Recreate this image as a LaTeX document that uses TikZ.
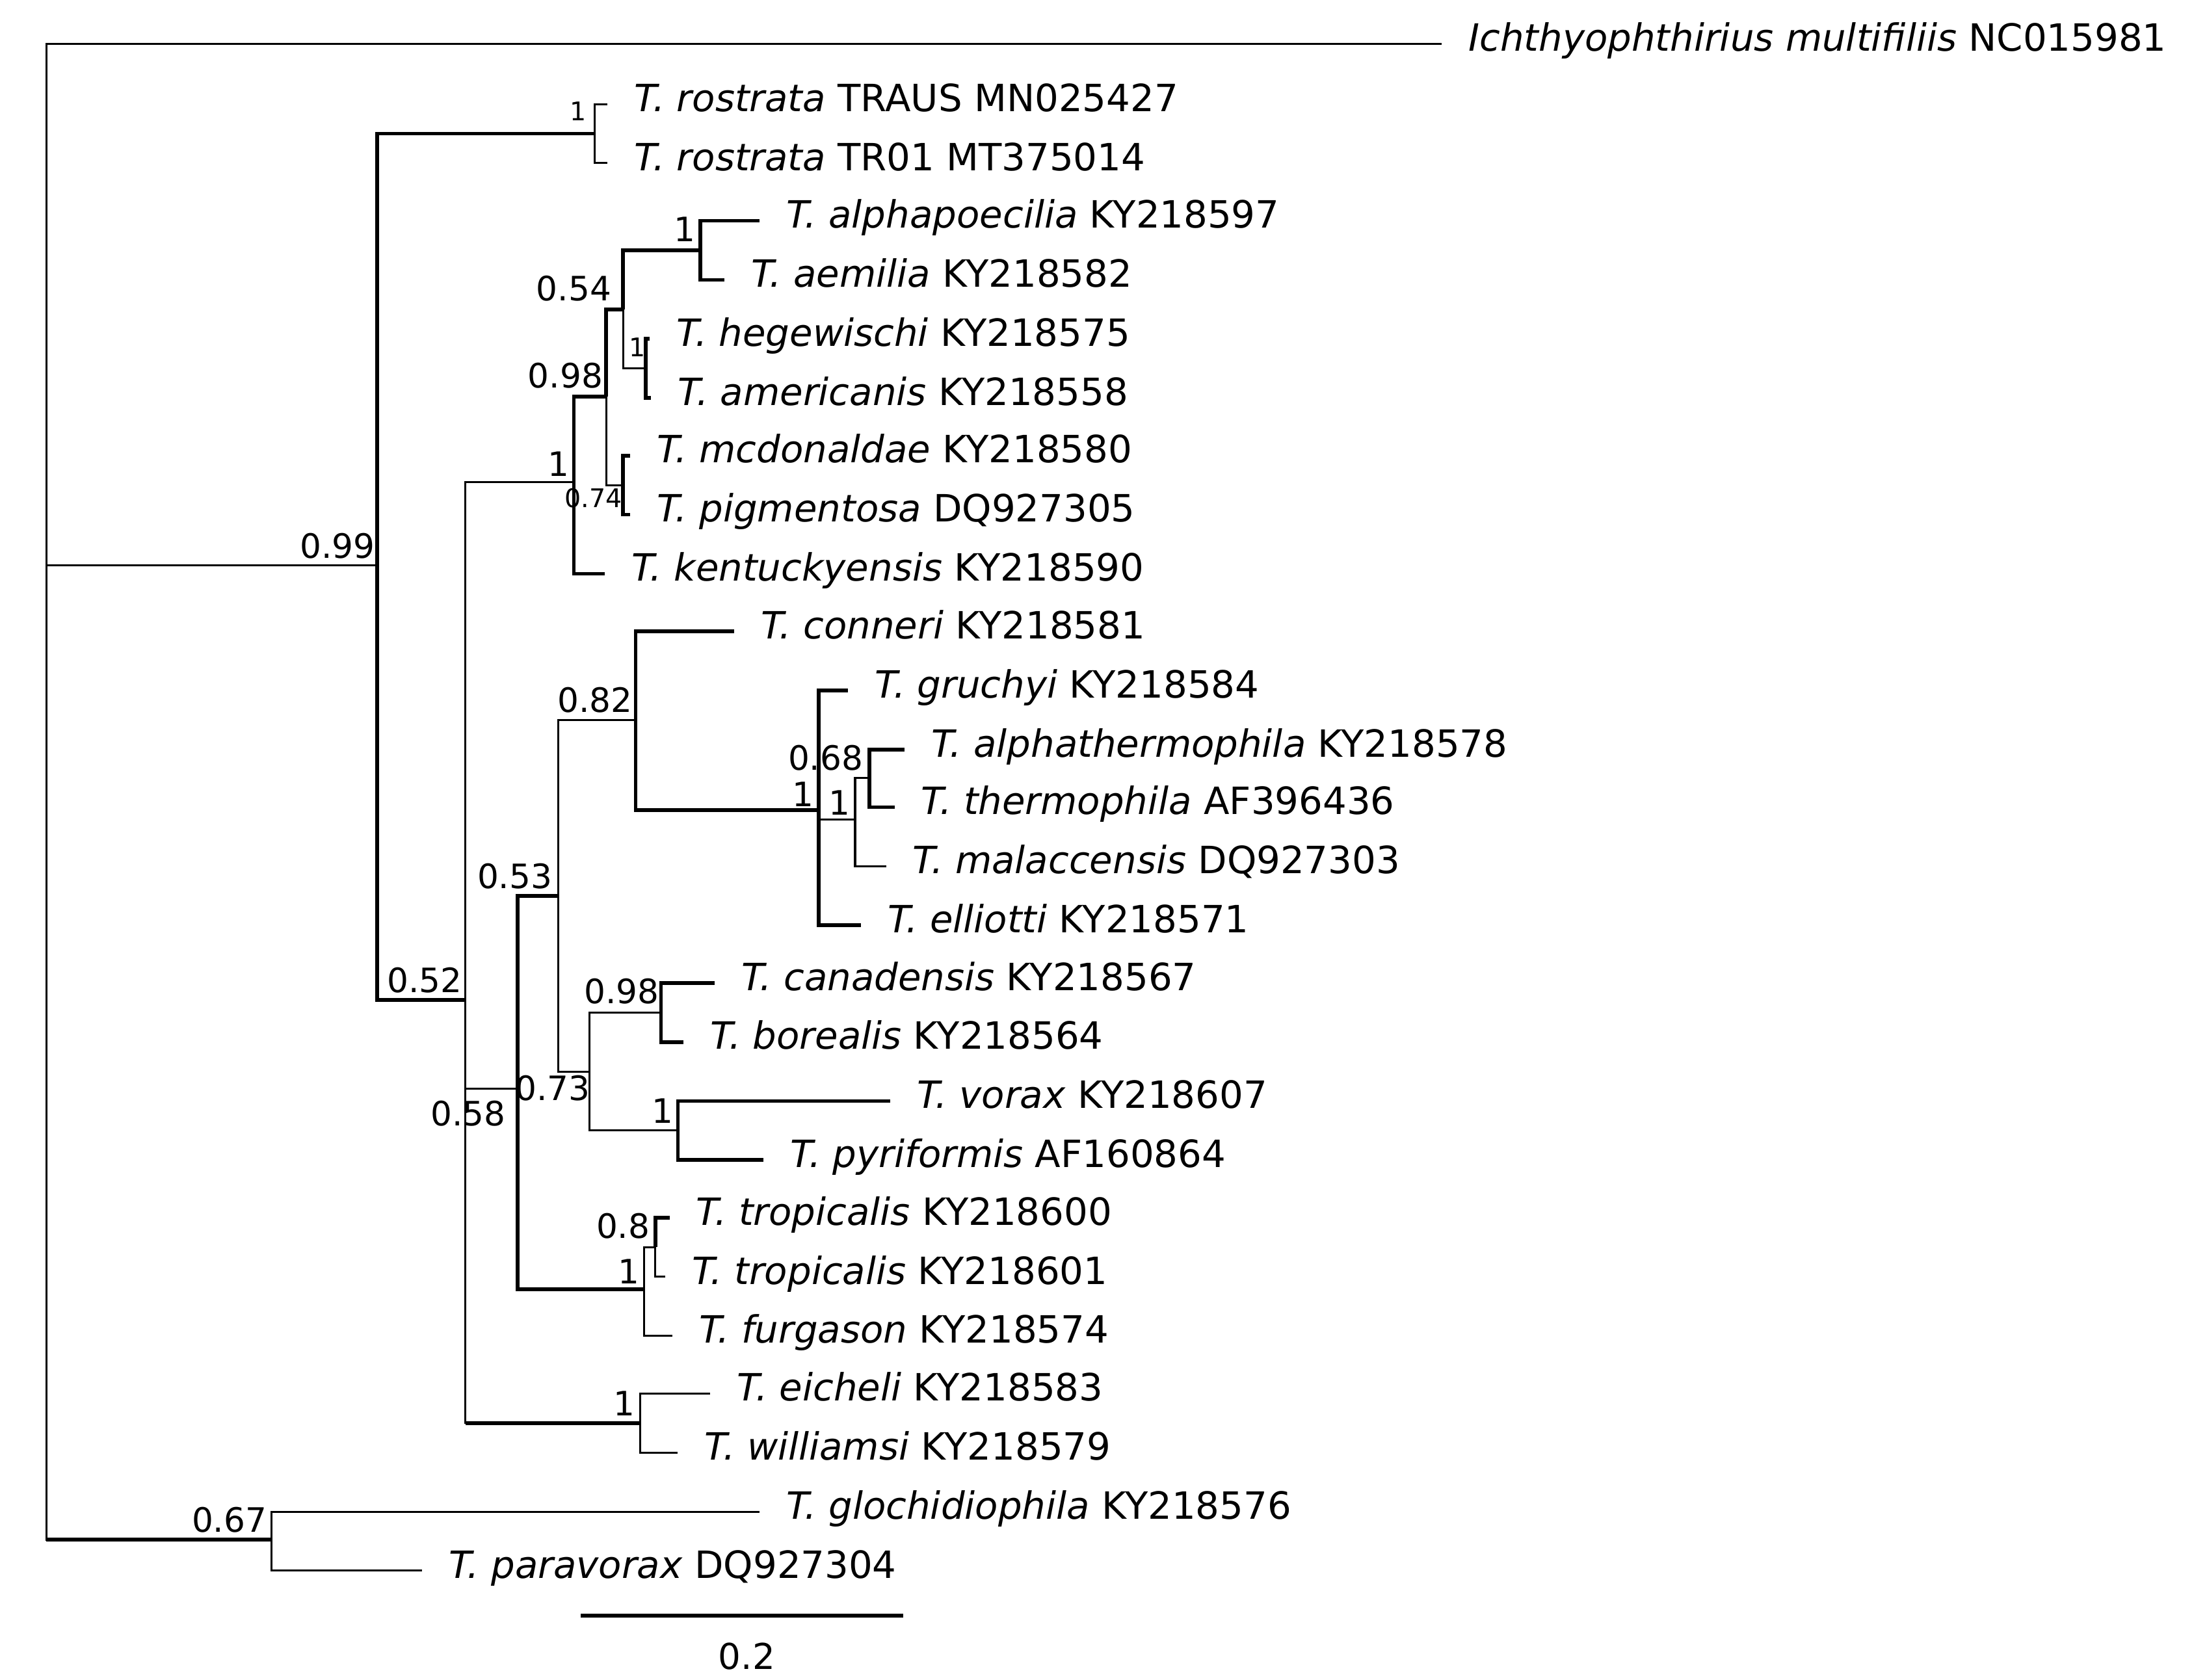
\documentclass[tikz,border=0pt]{standalone}
\usepackage{fontspec}
\setmainfont{DejaVu Sans}
\begin{document}
\begin{tikzpicture}[x=0.05cm,y=-0.05cm,
  br/.style={line width=2pt},
  tk/.style={line width=3.8pt},
  lab/.style={anchor=west,inner sep=0pt,xshift=0.95cm,font=\fontsize{38}{44}\selectfont},
  sup/.style={inner sep=0pt,font=\fontsize{34}{40}\selectfont},
  sups/.style={inner sep=0pt,font=\fontsize{26}{30}\selectfont}]
\useasboundingbox (0,0) rectangle (1560,1194.7);
% tips
\foreach \n/\x/\y/\t in {
 t0/1025/31/{\textit{Ichthyophthirius multifiliis} NC015981},
 t1/432/74/{\textit{T. rostrata} TRAUS MN025427},
 t2/432/116/{\textit{T. rostrata} TR01 MT375014},
 t3/540/157/{\textit{T. alphapoecilia} KY218597},
 t4/515/199/{\textit{T. aemilia} KY218582},
 t5/462/241/{\textit{T. hegewischi} KY218575},
 t6/463/283/{\textit{T. americanis} KY218558},
 t7/448/324/{\textit{T. mcdonaldae} KY218580},
 t8/448/366/{\textit{T. pigmentosa} DQ927305},
 t9/430/408/{\textit{T. kentuckyensis} KY218590},
 t10/522/449/{\textit{T. conneri} KY218581},
 t11/603/491/{\textit{T. gruchyi} KY218584},
 t12/643/533/{\textit{T. alphathermophila} KY218578},
 t13/636/574/{\textit{T. thermophila} AF396436},
 t14/630/616/{\textit{T. malaccensis} DQ927303},
 t15/612/658/{\textit{T. elliotti} KY218571},
 t16/508/699/{\textit{T. canadensis} KY218567},
 t17/486/741/{\textit{T. borealis} KY218564},
 t18/633/783/{\textit{T. vorax} KY218607},
 t19/543/825/{\textit{T. pyriformis} AF160864},
 t20/476/866/{\textit{T. tropicalis} KY218600},
 t21/473/908/{\textit{T. tropicalis} KY218601},
 t22/478/950/{\textit{T. furgason} KY218574},
 t23/505/991/{\textit{T. eicheli} KY218583},
 t24/482/1033/{\textit{T. williamsi} KY218579},
 t25/540/1075/{\textit{T. glochidiophila} KY218576},
 t26/300/1117/{\textit{T. paravorax} DQ927304}}
 {\coordinate (\n) at (\x,\y); \node[lab] (l\n) at ([yshift=0.05cm]\n) {\strut\t};}
% internal nodes
\coordinate (root) at (33,563);
\coordinate (A) at (268,402);
\coordinate (R1) at (423,95);
\coordinate (B) at (331,711);
\coordinate (C) at (408,343);
\coordinate (D) at (431,282);
\coordinate (E) at (443,220);
\coordinate (F) at (498,178);
\coordinate (G) at (459,262);
\coordinate (H) at (443,345);
\coordinate (I) at (368,774);
\coordinate (K) at (397,637);
\coordinate (M) at (452,512);
\coordinate (O) at (582,576);
\coordinate (P) at (608,583);
\coordinate (Q) at (618,553);
\coordinate (N) at (419,762);
\coordinate (R) at (470,720);
\coordinate (S) at (482,804);
\coordinate (L) at (458,917);
\coordinate (T) at (466,887);
\coordinate (J) at (455,1012);
\coordinate (U) at (193,1095);
% edges
\draw[br] (root) |- (t0);
\draw[br] (root) |- (A);
\draw[br] (root) |- (U); \draw[tk] (root |- U) -- (U);
\draw[tk] (A) |- (R1);
\draw[tk] (A) |- (B);
\draw[br] (R1) |- (t1); \draw[br] (R1) |- (t2);
\draw[br] (B) |- (C);
\draw[br] (B) |- (I);
\draw[br] (B) |- (J); \draw[tk] (B |- J) -- (J);
\draw[tk] (C) |- (D);
\draw[tk] (C) |- (t9);
\draw[tk] (D) |- (E);
\draw[br] (D) |- (H);
\draw[tk] (E) |- (F);
\draw[br] (E) |- (G);
\draw[tk] (F) |- (t3); \draw[tk] (F) |- (t4);
\draw[tk] (G) |- (t5); \draw[tk] (G) |- (t6);
\draw[tk] (H) |- (t7); \draw[tk] (H) |- (t8);
\draw[tk] (I) |- (K);
\draw[tk] (I) |- (L);
\draw[br] (K) |- (M);
\draw[br] (K) |- (N);
\draw[tk] (M) |- (t10);
\draw[tk] (M) |- (O);
\draw[tk] (O) |- (t11);
\draw[br] (O) |- (P);
\draw[tk] (O) |- (t15);
\draw[br] (P) |- (Q);
\draw[br] (P) |- (t14);
\draw[tk] (Q) |- (t12); \draw[tk] (Q) |- (t13);
\draw[br] (N) |- (R);
\draw[br] (N) |- (S);
\draw[tk] (R) |- (t16); \draw[tk] (R) |- (t17);
\draw[tk] (S) |- (t18); \draw[tk] (S) |- (t19);
\draw[br] (L) |- (T);
\draw[br] (L) |- (t22);
\draw[tk] (T) |- (t20); \draw[br] (T) |- (t21);
\draw[br] (J) |- (t23); \draw[br] (J) |- (t24);
\draw[br] (U) |- (t25); \draw[br] (U) |- (t26);
% support values
\node[sup] (s1) at (240,388) {0.99};
\node[sups] (s2) at (411,79) {1};
\node[sup] (s3) at (487,163) {1};
\node[sup] (s4) at (408,205) {0.54};
\node[sups] (s5) at (453,247) {1};
\node[sup] (s6) at (402,267) {0.98};
\node[sup] (s7) at (397,330) {1};
\node[sups] (s8) at (422,354) {0.74};
\node[sup] (s9) at (302,697) {0.52};
\node[sup] (s10) at (423,498) {0.82};
\node[sup] (s11) at (587,539) {0.68};
\node[sup] (s12) at (571,565) {1};
\node[sup] (s13) at (597,571) {1};
\node[sup] (s14) at (366,623) {0.53};
\node[sup] (s15) at (442,705) {0.98};
\node[sup] (s16) at (393,774) {0.73};
\node[sup] (s17) at (333,792) {0.58};
\node[sup] (s18) at (471,790) {1};
\node[sup] (s19) at (443,872) {0.8};
\node[sup] (s20) at (447,904) {1};
\node[sup] (s21) at (444,998) {1};
\node[sup] (s22) at (163,1081) {0.67};
% scale bar
\coordinate (sb1) at (413,1149);
\coordinate (sb2) at (642,1149);
\draw[tk] (sb1) -- (sb2);
\node[sup,font=\fontsize{36}{40}\selectfont] (sbl) at (531,1178) {0.2};
\end{tikzpicture}
\end{document}
